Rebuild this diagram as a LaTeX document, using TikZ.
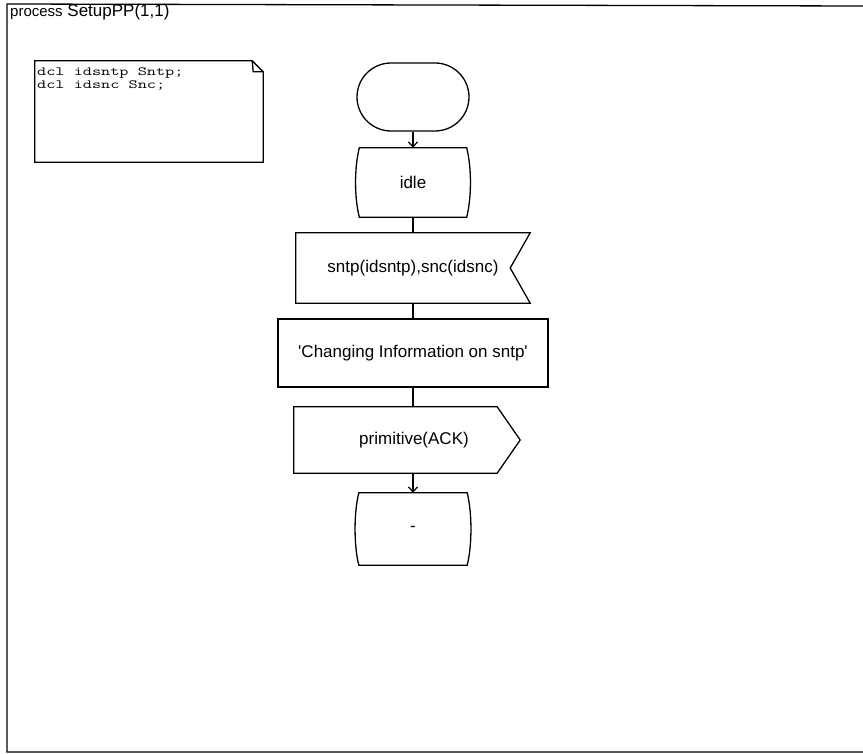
\documentclass[tikz,border=0pt]{standalone}
\usepackage{fontspec}
\setmainfont{Liberation Sans}
\usetikzlibrary{arrows.meta,calc}
\tikzset{
  sdl/.style={line width=1.3pt, line join=miter},
  sym/.style={draw=none, inner sep=0pt, font=\fontsize{17}{20}\selectfont},
  flow/.style={line width=1.2pt},
  flowarrow/.style={flow, -{Straight Barb[length=5pt,width=9pt,line width=1.2pt]}},
  decltext/.style={anchor=base west, inner sep=0pt},
}
% SDL state symbol: straight top and bottom, bulging sides
\newcommand\sdlstate[1]{%
  \draw[sdl] ([xshift=3pt]#1.north west) -- ([xshift=-3pt]#1.north east)
    .. controls ([xshift=2pt,yshift=-20pt]#1.north east) and ([xshift=2pt,yshift=20pt]#1.south east) ..
    ([xshift=-3pt]#1.south east) -- ([xshift=3pt]#1.south west)
    .. controls ([xshift=-2pt,yshift=20pt]#1.south west) and ([xshift=-2pt,yshift=-20pt]#1.north west) ..
    cycle;}
% declaration lines in a wide typewriter face
\newcommand\decl[1]{\scalebox{1.42}[1]{\ttfamily\fontsize{12.5}{12.5}\selectfont #1}}
\begin{document}
\begin{tikzpicture}[x=1pt,y=-1pt]
\useasboundingbox (0,0) rectangle (863,754);

% process frame and heading
\draw[sdl] (863,6) -- (7,4) -- (7,752) -- (863,752);
\node[anchor=base west, inner sep=0pt, font=\fontsize{17}{20}\selectfont] (title) at (10,17)
  {{\fontsize{15}{18}\selectfont process} SetupPP(1,1)};

% declaration text symbol with folded corner
\node[draw=none, inner sep=0pt, minimum width=228pt, minimum height=101pt] (decl) at (149,111.5) {};
\draw[sdl] (decl.south west) -- (decl.north west) -- ([xshift=-11pt]decl.north east)
  -- ([yshift=-11pt]decl.north east) -- (decl.south east) -- cycle;
\draw[sdl] ([xshift=-11pt]decl.north east) -- ([xshift=-10pt,yshift=-11pt]decl.north east)
  -- ([yshift=-11pt]decl.north east);
\node[decltext] (dcla) at (37,76) {\decl{dcl idsntp Sntp;}};
\node[decltext] (dclb) at (37,89) {\decl{dcl idsnc Snc;}};

% start symbol
\node[sym, draw, sdl, rounded corners=34pt, minimum width=112pt, minimum height=68pt] (start) at (413,97) {};

% state idle
\node[sym, minimum width=113pt, minimum height=69pt] (idle) at (413,182.5) {idle};
\sdlstate{idle}

% input signal
\node[sym, minimum width=234pt, minimum height=70pt] (inp) at (413,268) {sntp(idsntp),snc(idsnc)};
\draw[sdl] (inp.north west) -- (inp.north east) -- ([xshift=-20pt]inp.east)
  -- (inp.south east) -- (inp.south west) -- cycle;

% task
\node[sym, draw, sdl, minimum width=270pt, minimum height=68pt] (task) at (413,353)
  {\textquotesingle Changing Information on sntp\textquotesingle};

% output signal
\node[sym, minimum width=226pt, minimum height=66pt] (outp) at (407,440) {\hspace*{14pt}primitive(ACK)};
\draw[sdl] (outp.north west) -- ([xshift=-23pt]outp.north east) -- (outp.east)
  -- ([xshift=-23pt]outp.south east) -- (outp.south west) -- cycle;

% next state
\node[sym, minimum width=114pt, minimum height=72pt] (stop) at (413,529) {-};
\sdlstate{stop}

% connectors
\draw[flowarrow] (start.south) -- (idle.north);
\draw[flow] (idle.south) -- (inp.north);
\draw[flow] (inp.south) -- (task.north);
\draw[flow] (task.south) -- (task.south |- outp.north);
\draw[flowarrow] (stop.north |- outp.south) -- (stop.north);
\end{tikzpicture}
\end{document}
